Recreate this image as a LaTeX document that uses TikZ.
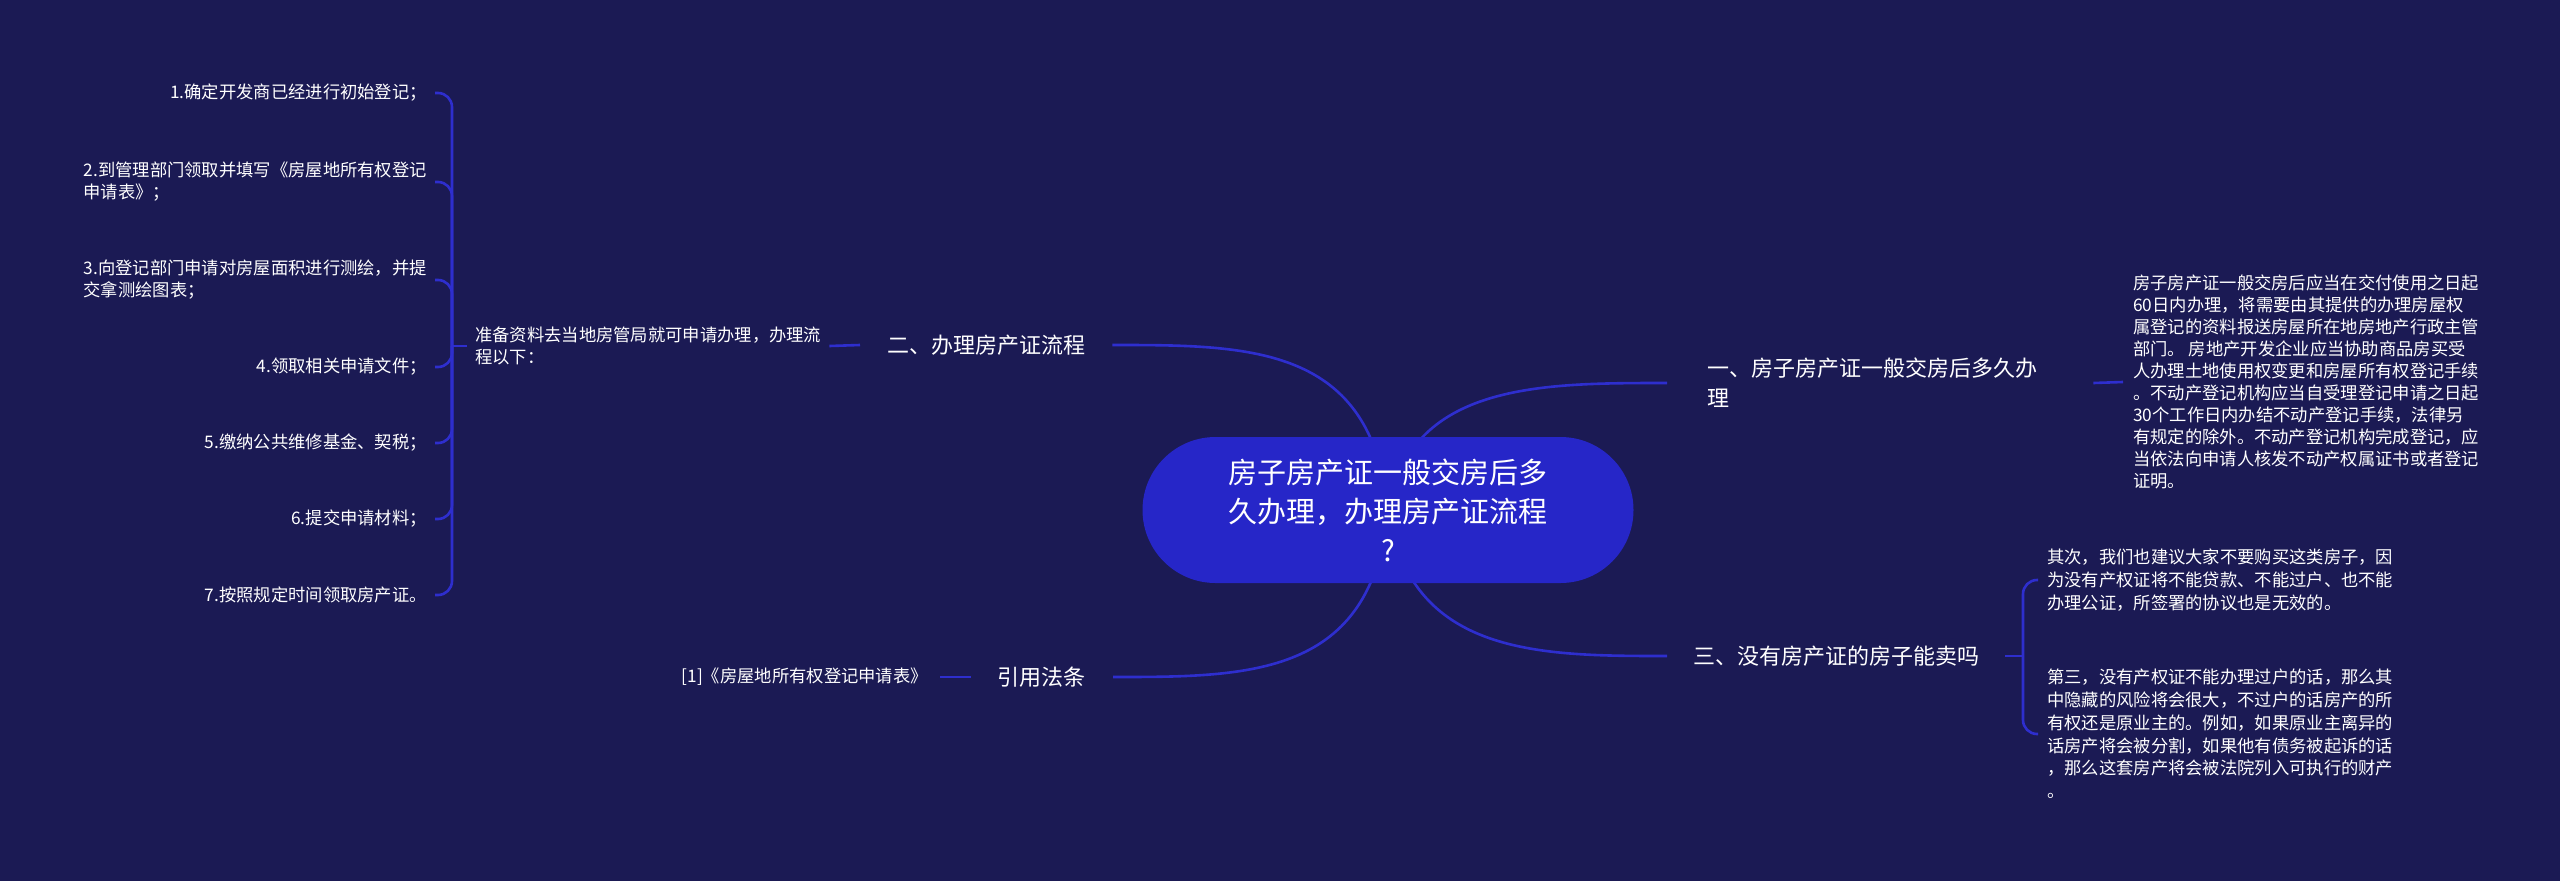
\documentclass[tikz,border=0pt]{standalone}
\usepackage{fontspec}
\setmainfont{Noto Sans CJK SC}
\definecolor{bgblue}{RGB}{27,26,84}
\definecolor{rootblue}{RGB}{38,38,200}
\definecolor{linkblue}{RGB}{46,46,206}
\tikzset{
  leaf/.style={text=white,font=\fontsize{17.3}{22}\selectfont,align=left,inner xsep=8pt,inner ysep=2pt},
  branch/.style={text=white,font=\fontsize{22}{30}\selectfont,align=left,inner xsep=27pt},
  root/.style={fill=rootblue,text=white,font=\fontsize{29}{39}\selectfont,align=center,
    minimum width=491pt,minimum height=146pt,rounded corners=73pt},
  link/.style={draw=linkblue,line width=2.6pt},
}
\begin{document}
\begin{tikzpicture}[x=1pt,y=-1pt]
    \fill[bgblue] (0,0) rectangle (2560,881);
    \useasboundingbox (0,0) rectangle (2560,881);

    \node[branch,anchor=west] (b2) at (860,345) {二、办理房产证流程};
    \node[branch,anchor=east] (b4) at (1113,677) {引用法条};
    \node[branch,anchor=west,inner xsep=40pt,text width=346pt] (b1) at (1667,383) {一、房子房产证一般交房后多久办\\理};
    \node[branch,anchor=west,inner xsep=26pt] (b3) at (1667,656) {三、没有房产证的房子能卖吗};

    \coordinate (rc) at (1388,510);
    \draw[link] (rc) .. controls (1372,345) and (1250,345) .. (b2.east);
    \draw[link] (rc) .. controls (1372,677) and (1250,677) .. (b4.east);
    \draw[link] (rc) .. controls (1410,383) and (1540,383) .. (b1.west);
    \draw[link] (rc) .. controls (1410,656) and (1540,656) .. (b3.west);
    \node[root] (root) at (rc) {房子房产证一般交房后多\\久办理，办理房产证流程\\?};

    \node[leaf,anchor=west] (prep) at (467,346) {准备资料去当地房管局就可申请办理，办理流\\程以下：};
    \draw[link] (prep.east) -- (b2.west);
    \coordinate (lj) at (452,346);
    \draw[link] (prep.west) -- (lj);

    \node[leaf,anchor=east] (s1) at (435,93) {1.确定开发商已经进行初始登记；};
    \node[leaf,anchor=east] (s2) at (435,182) {2.到管理部门领取并填写《房屋地所有权登记\\申请表》；};
    \node[leaf,anchor=east] (s3) at (435,280) {3.向登记部门申请对房屋面积进行测绘，并提\\交拿测绘图表；};
    \node[leaf,anchor=east] (s4) at (435,367) {4.领取相关申请文件；};
    \node[leaf,anchor=east] (s5) at (435,443) {5.缴纳公共维修基金、契税；};
    \node[leaf,anchor=east] (s6) at (435,519) {6.提交申请材料；};
    \node[leaf,anchor=east] (s7) at (435,595) {7.按照规定时间领取房产证。};
    \foreach \i in {1,...,7}
        \draw[link,rounded corners=14pt] (lj) |- (s\i.east);

    \node[leaf,anchor=east,inner xsep=12pt] (ref) at (940,677) {[1]《房屋地所有权登记申请表》};
    \draw[link] (ref.east) -- (b4.west);

    \node[leaf,anchor=west,inner xsep=10pt] (d1) at (2123,382) {房子房产证一般交房后应当在交付使用之日起\\60日内办理，将需要由其提供的办理房屋权\\属登记的资料报送房屋所在地房地产行政主管\\部门。 房地产开发企业应当协助商品房买受\\人办理土地使用权变更和房屋所有权登记手续\\。不动产登记机构应当自受理登记申请之日起\\30个工作日内办结不动产登记手续，法律另\\有规定的除外。不动产登记机构完成登记，应\\当依法向申请人核发不动产权属证书或者登记\\证明。};
    \draw[link] (b1.east) -- (d1.west);

    \coordinate (rj) at (2023,656);
    \draw[link] (b3.east) -- (rj);
    \node[leaf,anchor=west,inner xsep=9pt,font=\fontsize{17.3}{22.8}\selectfont] (d3a) at (2038,580) {其次，我们也建议大家不要购买这类房子，因\\为没有产权证将不能贷款、不能过户、也不能\\办理公证，所签署的协议也是无效的。};
    \node[leaf,anchor=west,inner xsep=9pt,font=\fontsize{17.3}{22.8}\selectfont] (d3b) at (2038,734) {第三，没有产权证不能办理过户的话，那么其\\中隐藏的风险将会很大，不过户的话房产的所\\有权还是原业主的。例如，如果原业主离异的\\话房产将会被分割，如果他有债务被起诉的话\\，那么这套房产将会被法院列入可执行的财产\\。};
    \draw[link,rounded corners=14pt] (rj) |- (d3a.west);
    \draw[link,rounded corners=14pt] (rj) |- (d3b.west);
\end{tikzpicture}
\end{document}
